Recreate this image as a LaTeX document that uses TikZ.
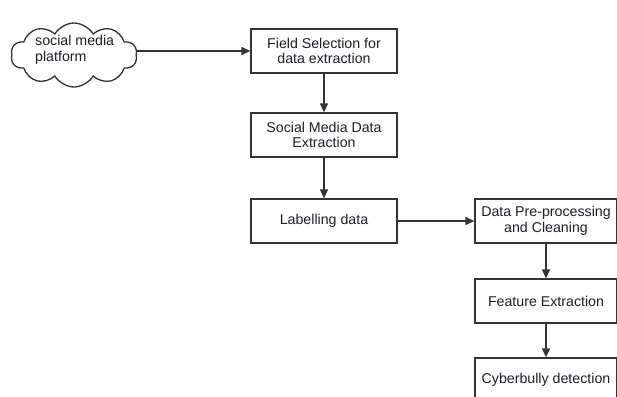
\documentclass[tikz,border=0pt]{standalone}
\usepackage{fontspec}
\setmainfont{Liberation Sans}
\usetikzlibrary{shapes.symbols,arrows.meta}
\definecolor{ln}{HTML}{333333}
\definecolor{tx}{HTML}{1E1E28}
\tikzset{
  stepbox/.style={draw=ln,line width=1.3pt,rectangle,minimum height=44pt,inner sep=1pt,align=center,text=tx,font=\fontsize{14.2}{15.5}\selectfont},
  conn/.style={draw=ln,line width=1.3pt,-{Stealth[length=9pt,width=8pt,inset=0pt]}}
}
\begin{document}
\begin{tikzpicture}[x=1pt,y=-1pt]
\useasboundingbox (0,0) rectangle (617,396);
\clip (0,0) rectangle (617,396);
\fill[white] (0,0) rectangle (617,396);
\node[cloud,cloud puffs=10,cloud puff arc=120,aspect=2,draw=ln,line width=1.3pt,minimum width=126pt,minimum height=64pt,inner sep=0pt] (cloud) at (74,55) {};
\node[text=tx,font=\fontsize{14.2}{15.5}\selectfont,align=left,anchor=west,inner sep=0pt] (cloudtxt) at (35,50) {social media\\platform};
\node[stepbox,minimum width=146pt] (field) at (324,51) {Field Selection for\\data extraction};
\node[stepbox,minimum width=146pt] (social) at (324,135) {Social Media Data\\Extraction};
\node[stepbox,minimum width=146pt] (label) at (324,221) {Labelling data};
\node[stepbox,minimum width=142pt] (pre) at (546,221) {Data Pre-processing\\and Cleaning};
\node[stepbox,minimum width=142pt] (feat) at (546,301) {Feature Extraction};
\node[stepbox,minimum width=142pt] (cyber) at (546,380) {Cyberbully detection};
\draw[conn] (cloud.east |- field.west) -- (field.west);
\draw[conn] (field) -- (social);
\draw[conn] (social) -- (label);
\draw[conn] (label) -- (pre);
\draw[conn] (pre) -- (feat);
\draw[conn] (feat) -- (cyber);
\end{tikzpicture}
\end{document}
